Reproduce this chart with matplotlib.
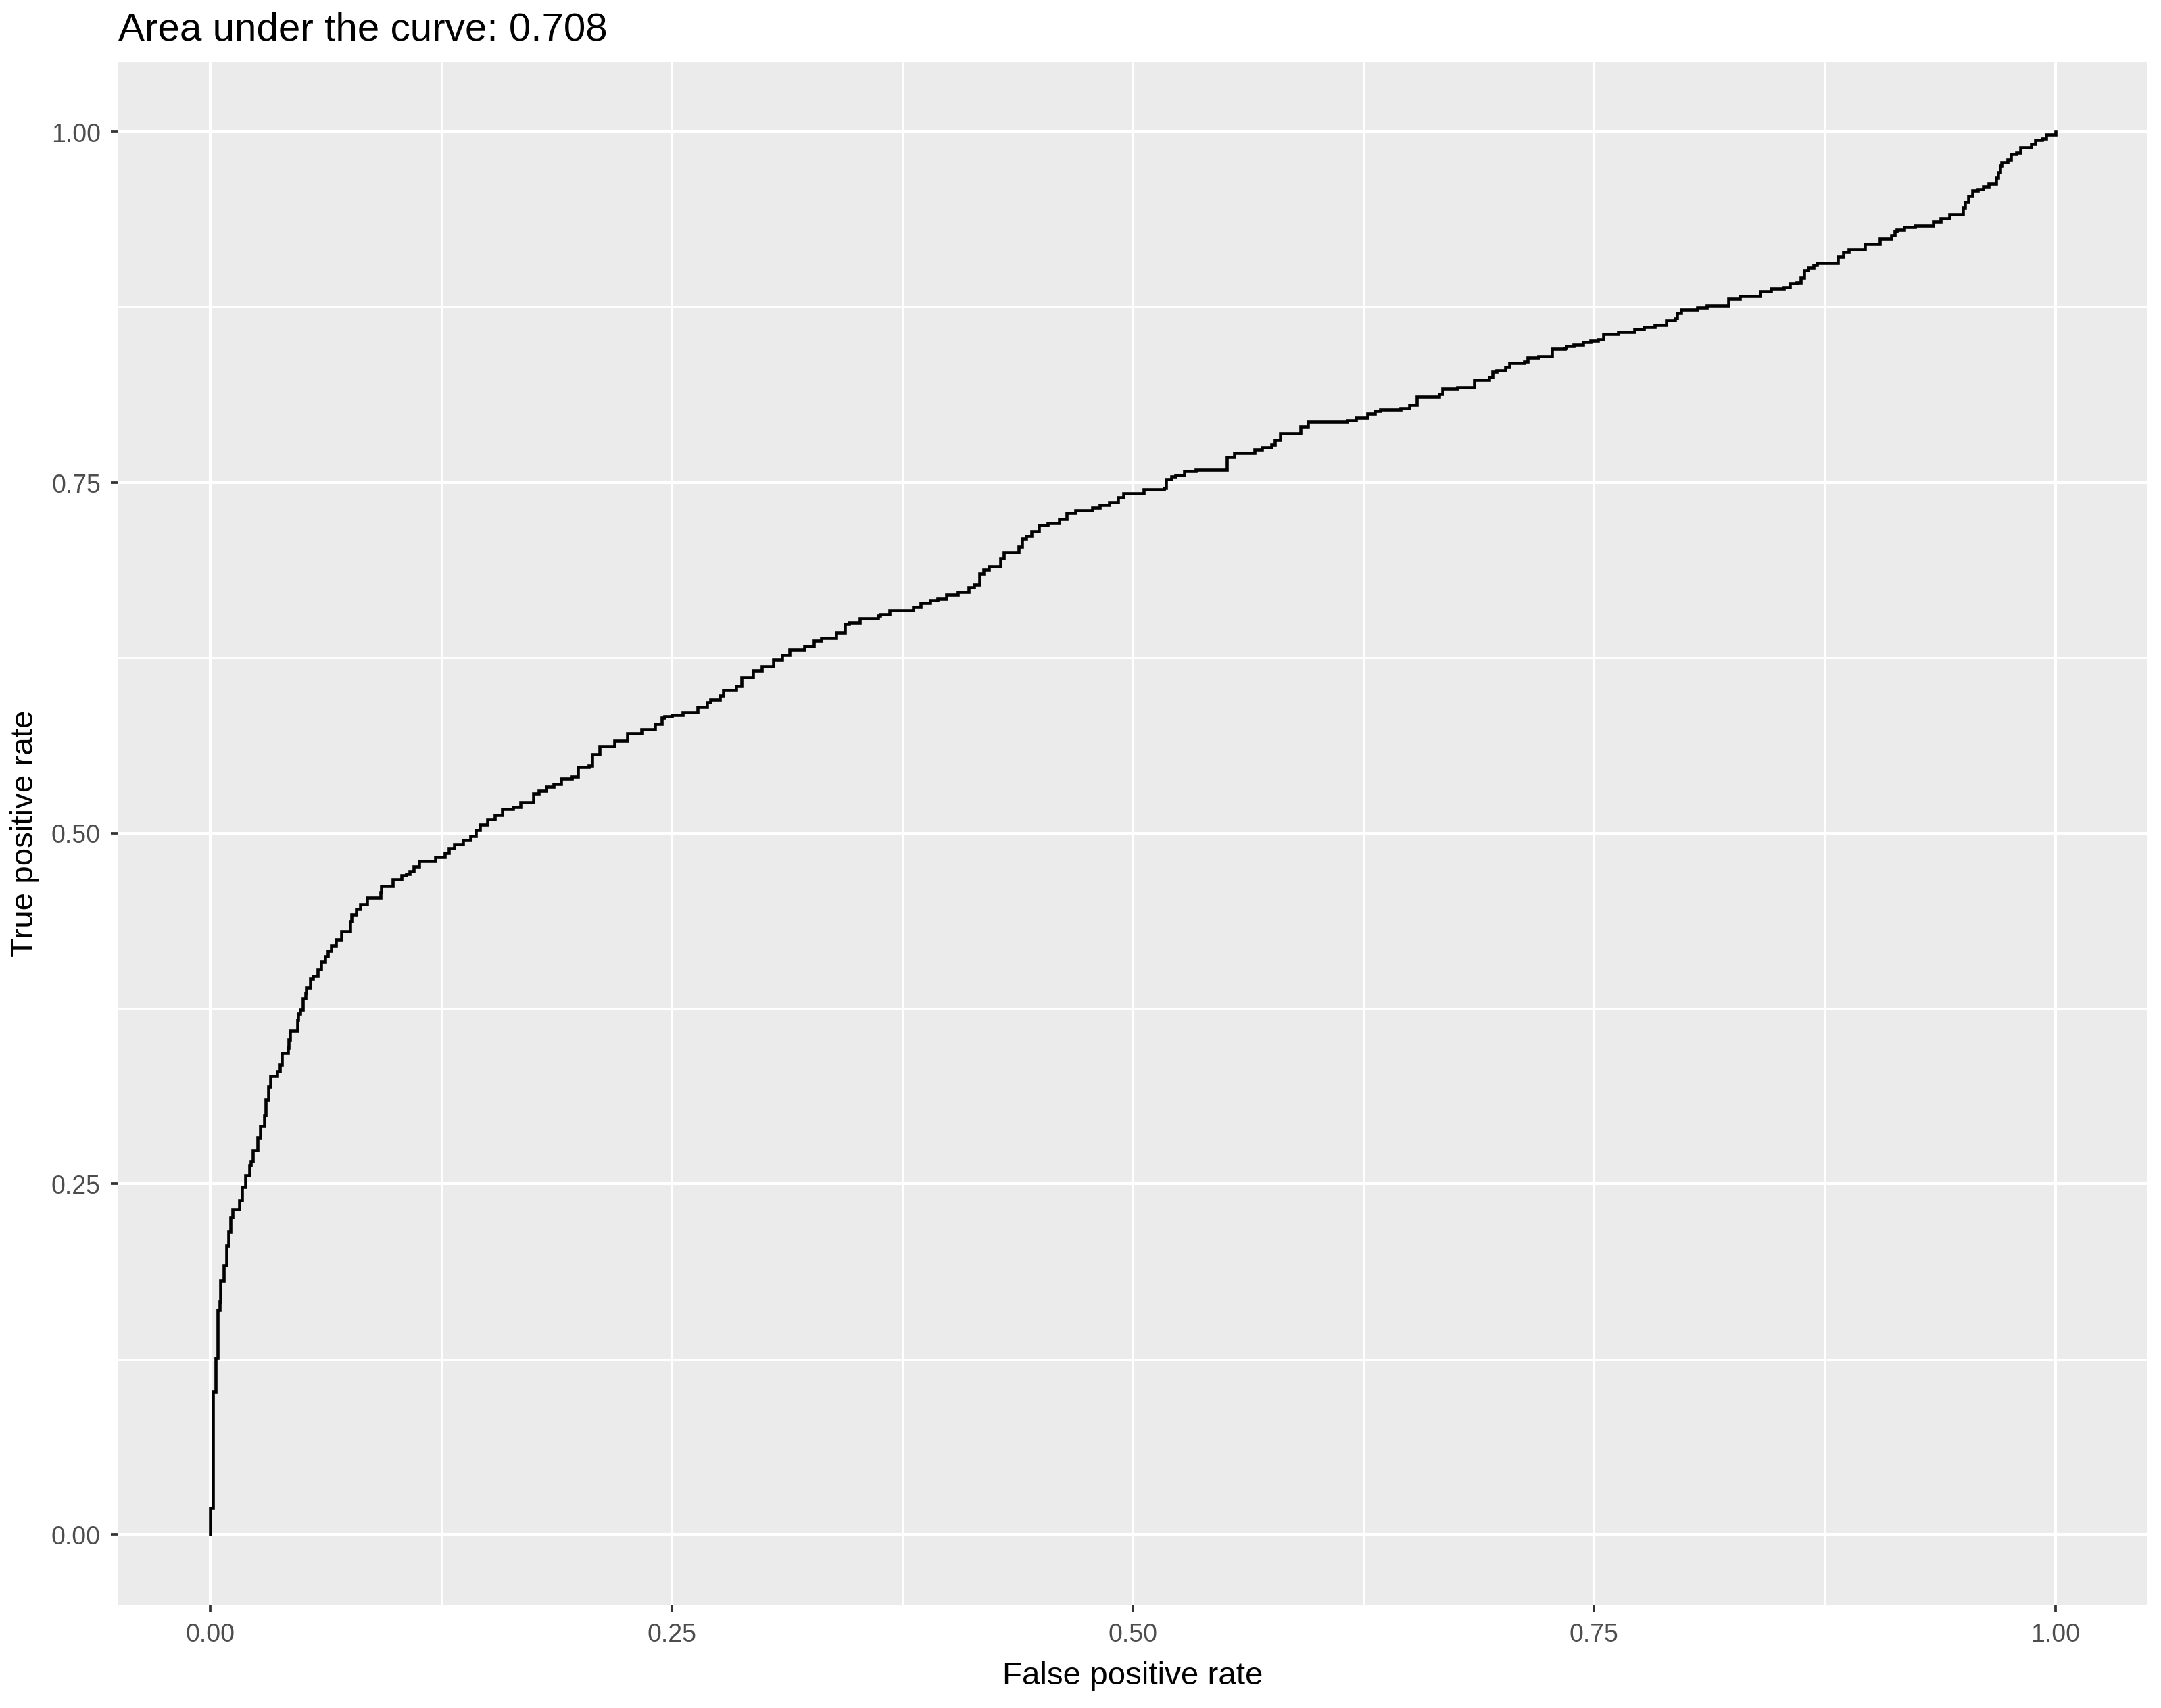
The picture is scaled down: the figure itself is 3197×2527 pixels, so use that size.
"""
roc_plot.py - ROC curve in the ggplot grey style, AUC in the title.
"""

import matplotlib
matplotlib.use("Agg")
import matplotlib.pyplot as plt
from matplotlib.ticker import MultipleLocator

# ---------------------------------------------------------------
# ROC curve (step corners)
# ---------------------------------------------------------------
AUC = 0.708

FPR = [
    0.0, 0.0, 0.0014, 0.0028, 0.0038, 0.005, 0.0055, 0.0073, 0.0087, 0.0098,
    0.011, 0.012, 0.0157, 0.017, 0.019, 0.021, 0.022, 0.023, 0.0256, 0.027,
    0.029, 0.030, 0.0315, 0.0326, 0.036, 0.0375, 0.0386, 0.042, 0.0425, 0.043,
    0.047, 0.0475, 0.0487, 0.050, 0.0515, 0.052, 0.054, 0.0557, 0.058, 0.060,
    0.062, 0.0635, 0.0656, 0.068, 0.071, 0.0757, 0.0765, 0.079, 0.081, 0.0847,
    0.092, 0.0925, 0.0987, 0.1036, 0.106, 0.108, 0.110, 0.113, 0.122, 0.127,
    0.129, 0.132, 0.137, 0.141, 0.144, 0.146, 0.150, 0.154, 0.158, 0.164,
    0.168, 0.175, 0.178, 0.182, 0.186, 0.190, 0.196, 0.199, 0.205, 0.207,
    0.211, 0.219, 0.226, 0.2336, 0.241, 0.2445, 0.246, 0.250, 0.256, 0.264,
    0.269, 0.271, 0.276, 0.278, 0.285, 0.288, 0.294, 0.299, 0.305, 0.310,
    0.314, 0.322, 0.327, 0.331, 0.339, 0.344, 0.346, 0.352, 0.362, 0.363,
    0.368, 0.381, 0.385, 0.390, 0.394, 0.399, 0.405, 0.411, 0.414, 0.417,
    0.419, 0.422, 0.428, 0.430, 0.438, 0.440, 0.442, 0.445, 0.449, 0.454,
    0.460, 0.464, 0.469, 0.478, 0.482, 0.487, 0.492, 0.495, 0.506, 0.517,
    0.518, 0.521, 0.523, 0.528, 0.534, 0.551, 0.555, 0.566, 0.570, 0.575,
    0.577, 0.580, 0.591, 0.595, 0.616, 0.621, 0.627, 0.631, 0.634, 0.645,
    0.650, 0.654, 0.666, 0.668, 0.676, 0.685, 0.693, 0.695, 0.697, 0.702,
    0.704, 0.712, 0.714, 0.720, 0.727, 0.734, 0.735, 0.739, 0.744, 0.748,
    0.752, 0.755, 0.763, 0.772, 0.777, 0.783, 0.789, 0.794, 0.795, 0.797,
    0.806, 0.811, 0.823, 0.829, 0.840, 0.846, 0.853, 0.856, 0.860, 0.862,
    0.864, 0.866, 0.869, 0.871, 0.882, 0.885, 0.888, 0.897, 0.905, 0.911,
    0.913, 0.914, 0.918, 0.924, 0.934, 0.938, 0.9425, 0.950, 0.951, 0.953,
    0.955, 0.958, 0.961, 0.964, 0.968, 0.969, 0.970, 0.971, 0.974, 0.976,
    0.979, 0.981, 0.987, 0.989, 0.993, 0.995, 1.0,
]

TPR = [
    0.0, 0.019, 0.102, 0.126, 0.160, 0.166, 0.181, 0.192, 0.206, 0.216,
    0.226, 0.232, 0.238, 0.248, 0.256, 0.263, 0.266, 0.274, 0.283, 0.291,
    0.299, 0.310, 0.319, 0.327, 0.330, 0.335, 0.343, 0.347, 0.353, 0.359,
    0.367, 0.371, 0.374, 0.382, 0.386, 0.390, 0.396, 0.398, 0.403, 0.408,
    0.412, 0.416, 0.420, 0.424, 0.430, 0.437, 0.442, 0.446, 0.449, 0.454,
    0.458, 0.462, 0.467, 0.470, 0.471, 0.473, 0.476, 0.480, 0.483, 0.486,
    0.489, 0.492, 0.495, 0.498, 0.502, 0.506, 0.510, 0.513, 0.517, 0.5185,
    0.522, 0.528, 0.530, 0.533, 0.535, 0.539, 0.540, 0.547, 0.548, 0.556,
    0.562, 0.566, 0.571, 0.574, 0.578, 0.582, 0.583, 0.584, 0.586, 0.590,
    0.593, 0.595, 0.598, 0.602, 0.605, 0.611, 0.616, 0.619, 0.6235, 0.627,
    0.631, 0.633, 0.637, 0.639, 0.643, 0.649, 0.650, 0.653, 0.655, 0.656,
    0.659, 0.661, 0.664, 0.666, 0.667, 0.670, 0.672, 0.675, 0.677, 0.685,
    0.6875, 0.690, 0.696, 0.700, 0.704, 0.710, 0.712, 0.715, 0.7195, 0.721,
    0.724, 0.728, 0.730, 0.732, 0.734, 0.736, 0.739, 0.742, 0.745, 0.746,
    0.752, 0.754, 0.755, 0.758, 0.759, 0.768, 0.771, 0.7735, 0.775, 0.777,
    0.780, 0.785, 0.790, 0.793, 0.794, 0.796, 0.799, 0.801, 0.802, 0.803,
    0.805, 0.811, 0.813, 0.817, 0.818, 0.823, 0.825, 0.829, 0.830, 0.832,
    0.835, 0.836, 0.839, 0.840, 0.845, 0.8455, 0.847, 0.848, 0.850, 0.851,
    0.852, 0.8556, 0.8575, 0.859, 0.8605, 0.862, 0.8656, 0.867, 0.871, 0.873,
    0.8747, 0.876, 0.881, 0.883, 0.886, 0.888, 0.889, 0.892, 0.8925, 0.896,
    0.901, 0.903, 0.905, 0.9066, 0.9106, 0.914, 0.916, 0.920, 0.924, 0.926,
    0.929, 0.930, 0.932, 0.933, 0.936, 0.938, 0.941, 0.946, 0.950, 0.954,
    0.958, 0.959, 0.961, 0.963, 0.967, 0.971, 0.976, 0.978, 0.980, 0.984,
    0.985, 0.989, 0.991, 0.994, 0.995, 0.998, 1.0,
]

TICKS = [0.0, 0.25, 0.5, 0.75, 1.0]
TICK_LABELS = ["0.00", "0.25", "0.50", "0.75", "1.00"]

# ---------------------------------------------------------------

W, H, DPI = 3197, 2528, 300

plt.rcParams["font.family"] = ["Liberation Sans", "DejaVu Sans"]

fig = plt.figure(figsize=(W / DPI, H / DPI), dpi=DPI)
fig.patch.set_facecolor("white")

# panel placement in pixels (left, right, top, bottom)
pl, pr, pt, pb = 175, 3177, 92, 2375
ax = fig.add_axes([pl / W, 1 - pb / H, (pr - pl) / W, (pb - pt) / H])

ax.set_facecolor("#EBEBEB")
for s in ax.spines.values():
    s.set_visible(False)

ax.plot(FPR, TPR, color="black", linewidth=1.1, drawstyle="steps-post",
        solid_joinstyle="miter", zorder=5)

ax.set_xlim(-0.05, 1.05)
ax.set_ylim(-0.05, 1.05)

ax.set_xticks(TICKS)
ax.set_xticklabels(TICK_LABELS)
ax.set_yticks(TICKS)
ax.set_yticklabels(TICK_LABELS)
ax.xaxis.set_minor_locator(MultipleLocator(0.125))
ax.yaxis.set_minor_locator(MultipleLocator(0.125))

ax.grid(True, which="major", color="white", linewidth=1.0, zorder=0)
ax.grid(True, which="minor", color="white", linewidth=0.7, zorder=0)
ax.set_axisbelow(True)

ax.tick_params(which="major", length=2.75, width=0.9, color="#333333",
               labelcolor="#4D4D4D", labelsize=9, pad=3.5)
ax.tick_params(which="minor", length=0)

# titles
fig.text(pl / W, 1 - 59 / H, f"Area under the curve: {AUC}",
         fontsize=14, color="black", ha="left", va="baseline")
fig.text((pl + pr) / 2 / W, 1 - 2492 / H, "False positive rate",
         fontsize=11.4, color="black", ha="center", va="baseline")
fig.text(37 / W, 1 - (pt + pb) / 2 / H, "True positive rate",
         fontsize=11.4, color="black", ha="center", va="center", rotation=90)

plt.savefig("out.png", dpi=DPI)
